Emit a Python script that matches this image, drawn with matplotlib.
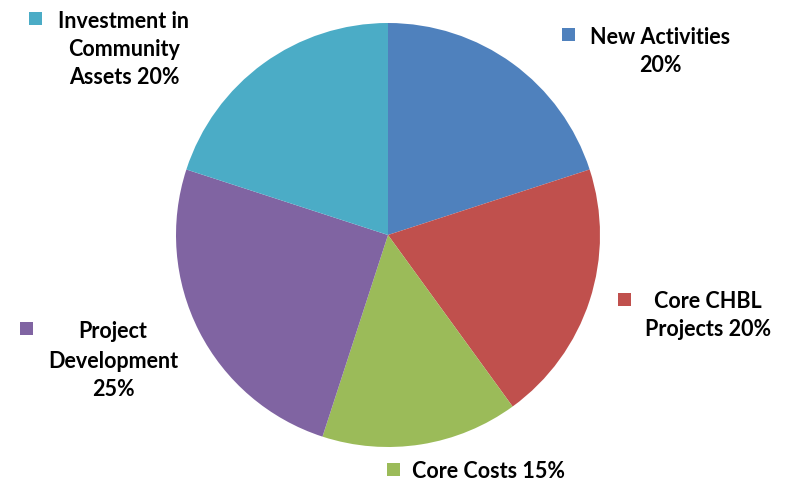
import matplotlib
matplotlib.use("Agg")
import matplotlib.pyplot as plt
from matplotlib.patches import Rectangle

categories = ["New Activities", "Core CHBL Projects", "Core Costs", "Project Development", "Investment in Community Assets"]
values = [20, 20, 15, 25, 20]
colors = ["#4F81BD", "#C0504D", "#9BBB59", "#8064A2", "#4BACC6"]
label_lines = [
    ["New Activities", "20%"],
    ["Core CHBL", "Projects 20%"],
    ["Core Costs 15%"],
    ["Project", "Development", "25%"],
    ["Investment in", "Community", "Assets 20%"],
]

W, H = 785, 483
fig = plt.figure(figsize=(W / 100, H / 100), dpi=100)
cx, cy, r = 388, 235, 212
ax = fig.add_axes([(cx - r) / W, (H - cy - r) / H, 2 * r / W, 2 * r / H])
ax.pie(values, colors=colors, startangle=90, counterclock=False, radius=1,
       wedgeprops=dict(linewidth=0))
ax.set_xlim(-1, 1)
ax.set_ylim(-1, 1)
ax.set_aspect("auto")
ax.axis("off")

# label layout: (marker x, marker y, text center x, first line y, line step)
layout = [
    (562, 28, 660, 37, 28),
    (618, 293, 708, 302, 28),
    (387, 463, 489, 472, 28),
    (20, 322, 113, 332, 29),
    (29, 12, 124, 21, 28.5),
]
fs = 15.5
for (mx, my, tx, ty, step), lines, col in zip(layout, label_lines, colors):
    fig.patches.append(Rectangle((mx / W, 1 - (my + 13) / H), 13 / W, 13 / H,
                                 transform=fig.transFigure, facecolor=col,
                                 edgecolor="none"))
    for i, ln in enumerate(lines):
        fig.text(tx / W, 1 - (ty + i * step) / H, ln, ha="center", va="center",
                 fontsize=fs, fontweight="bold", family="Lato", color="black")

fig.savefig("out.png", dpi=100)
